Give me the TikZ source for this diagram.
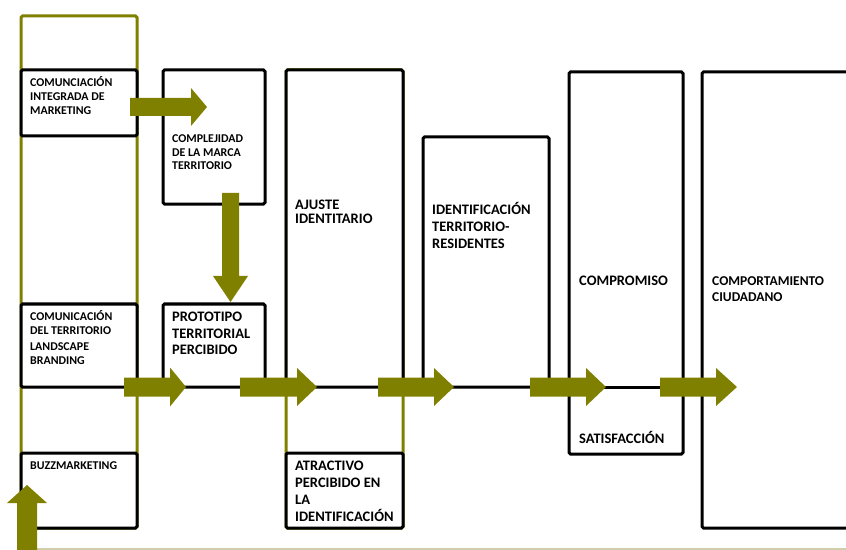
\documentclass[tikz,border=0pt]{standalone}
\usepackage{fontspec}
\setmainfont{Carlito}
\definecolor{olivegreen}{RGB}{128,128,0}
\definecolor{paleolive}{RGB}{206,206,170}
% block arrow: tail x, tail y, rotation, length, shaft width, head width, head length
\newcommand{\olivearrow}[8]{%
  \fill[olivegreen, shift={(#2,#3)}, rotate=#4]
    (0,-#6/2) -- (#5-#8,-#6/2) -- (#5-#8,-#7/2) -- (#5,0) coordinate (#1)
    -- (#5-#8,#7/2) -- (#5-#8,#6/2) -- (0,#6/2) -- cycle;}
\begin{document}
\begin{tikzpicture}[x=1bp,y=-1bp,
  frame/.style={draw=black, line width=3bp, fill=white, rounded corners=1.5bp,
    inner sep=0pt, outer sep=0pt, anchor=north west},
  olivebar/.style={draw=olivegreen, line width=3bp, rounded corners=1.5bp},
  lbl/.style={inner sep=0pt, anchor=base west, align=left,
    font=\bfseries\fontsize{11.9bp}{14bp}\selectfont},
  lblL/.style={inner sep=0pt, anchor=base west, align=left,
    font=\bfseries\fontsize{14.5bp}{16.5bp}\selectfont}
]
\useasboundingbox (0,0) rectangle (846,550);
\clip (0,0) rectangle (846,550);

% olive frames behind the stacked columns
\draw[olivebar] (21,16) rectangle (137,528);
\draw[olivebar] (286,70) rectangle (403,528);
\draw[paleolive, line width=1.5bp] (37,549) -- (846,549);

% boxes
\node[frame, minimum width=116bp, minimum height=66bp]  (b1)  at (21,70)  {};
\node[frame, minimum width=102bp, minimum height=134bp] (b2)  at (163,70) {};
\node[frame, minimum width=116bp, minimum height=83bp]  (b3)  at (21,304) {};
\node[frame, minimum width=102bp, minimum height=83bp]  (b4)  at (163,304) {};
\node[frame, minimum width=116bp, minimum height=75bp]  (b5)  at (21,453) {};
\node[frame, minimum width=117bp, minimum height=317bp] (b6)  at (286,70) {};
\node[frame, minimum width=117bp, minimum height=75bp]  (b7)  at (286,453) {};
\node[frame, minimum width=126bp, minimum height=250bp] (b8)  at (423,137) {};
\node[frame, minimum width=114bp, minimum height=382bp] (b9)  at (569,72) {};
\node[frame, minimum width=170bp, minimum height=456bp] (b10) at (702,72) {};
\draw[line width=3bp] (b9.west |- 0,387) -- (b9.east |- 0,387);

% labels (anchored on the baseline of their last line)
\node[lbl] (t1) at (30,114.4) {COMUNCIACIÓN\\INTEGRADA DE\\MARKETING};
\node[lbl, font=\bfseries\fontsize{11.9bp}{13.3bp}\selectfont] (t2) at (172,169.4)
  {COMPLEJIDAD\\DE LA MARCA\\TERRITORIO};
\node[lbl] (t3) at (30,364.4) {COMUNICACIÓN\\DEL TERRITORIO\\[2bp]LANDSCAPE\\BRANDING};
\node[lblL, font=\bfseries\fontsize{14.5bp}{16.2bp}\selectfont] (t4) at (172,354.3)
  {PROTOTIPO\\TERRITORIAL\\PERCIBIDO};
\node[lbl] (t5) at (30,469.4) {BUZZMARKETING};
\node[lblL, font=\bfseries\fontsize{14.5bp}{14bp}\selectfont] (t6) at (295,223.3)
  {AJUSTE\\IDENTITARIO};
\node[lblL, font=\bfseries\fontsize{14.5bp}{17bp}\selectfont] (t7) at (432,248.3)
  {IDENTIFICACIÓN\\TERRITORIO-\\RESIDENTES};
\node[lblL, font=\bfseries\fontsize{14.5bp}{16.7bp}\selectfont] (t8) at (295,521)
  {ATRACTIVO\\PERCIBIDO EN\\LA\\IDENTIFICACIÓN};
\node[lblL] (t9) at (579,286) {COMPROMISO};
\node[lblL, font=\bfseries\fontsize{13.5bp}{16bp}\selectfont] (t10) at (712,302)
  {COMPORTAMIENTO\\CIUDADANO};
\node[lblL] (t11) at (579,443.3) {SATISFACCIÓN};

% block arrows
\olivearrow{a1}{130}{107}{0}{77}{18}{38}{16}
\olivearrow{a2}{230.5}{193}{-90}{109}{17}{35}{26}
\olivearrow{a3}{124}{387}{0}{62}{19}{39}{16}
\olivearrow{a4}{240}{387}{0}{77}{19}{38}{20}
\olivearrow{a5}{378}{387}{0}{76}{19}{38}{20}
\olivearrow{a6}{530}{387}{0}{76}{19}{38}{20}
\olivearrow{a7}{660}{387}{0}{77}{19}{38}{21}
\olivearrow{a8}{27}{552}{90}{67}{20}{40}{18}
\end{tikzpicture}
\end{document}
